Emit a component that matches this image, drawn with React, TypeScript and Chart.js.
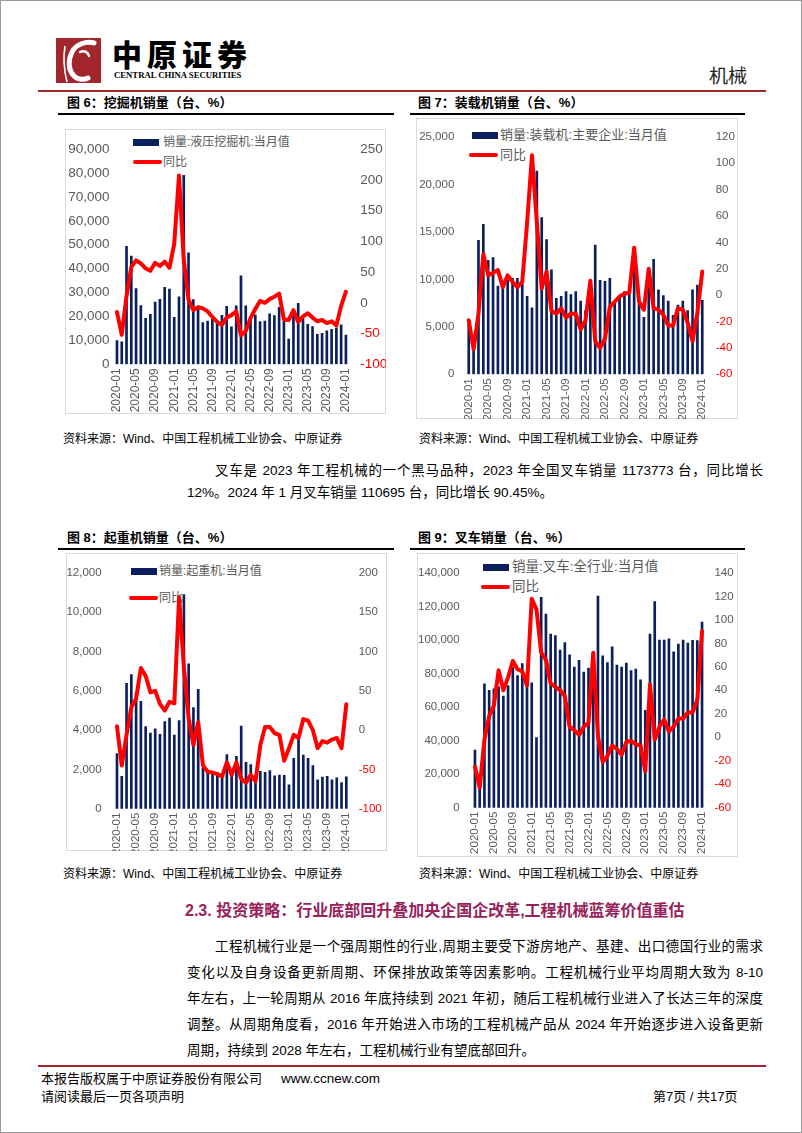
import React, { useEffect, useRef } from "react";
import { Chart, registerables } from "chart.js";
Chart.register(...registerables);

const monthLabels = [
  "2020-01","2020-02","2020-03","2020-04","2020-05","2020-06","2020-07","2020-08","2020-09","2020-10","2020-11","2020-12",
  "2021-01","2021-02","2021-03","2021-04","2021-05","2021-06","2021-07","2021-08","2021-09","2021-10","2021-11","2021-12",
  "2022-01","2022-02","2022-03","2022-04","2022-05","2022-06","2022-07","2022-08","2022-09","2022-10","2022-11","2022-12",
  "2023-01","2023-02","2023-03","2023-04","2023-05","2023-06","2023-07","2023-08","2023-09","2023-10","2023-11","2023-12",
  "2024-01"
];

const excavatorSales = [9900, 9400, 49300, 45300, 31700, 24600, 19200, 20900, 26000, 27200, 32200, 31500, 19600, 28200, 79000, 46600, 27100, 23000, 17400, 18100, 18900, 17300, 20500, 24200, 15700, 24500, 37000, 24500, 19500, 20700, 17900, 18100, 21100, 20400, 23800, 18000, 10500, 21600, 25500, 19100, 16700, 15800, 12500, 12900, 14000, 14600, 15100, 16500, 12200];
const excavatorYoY = [-15, -52, 11, 58, 69, 64, 56, 52, 65, 60, 67, 57, 96, 207, 70, 5, -12, -7, -9, -14, -23, -31, -36, -24, -20, -14, -53, -46, -25, -10, 3, 0, 6, 10, 15, -27, -28, -12, -31, -22, -17, -24, -30, -28, -33, -30, -37, -5, 18];

const loaderSales = [5300, 3400, 14100, 15800, 12000, 12300, 9300, 9700, 9900, 10100, 10100, 9500, 8200, 7000, 21400, 16500, 14200, 11000, 8000, 8200, 8700, 8400, 8700, 7700, 6700, 7700, 13600, 9900, 9800, 10100, 7600, 8100, 8700, 8700, 11500, 7400, 6000, 9200, 12100, 8900, 8300, 7700, 6200, 7300, 7700, 6700, 8900, 9400, 7800];
const loaderYoY = [-19, -41, -14, 31, 15, 17, 19, 6, 15, 10, 6, 10, 55, 106, 55, 5, 18, -12, -14, -10, -17, -14, -14, -26, -19, 11, -35, -40, -33, -9, -5, -1, 1, 2, 36, -5, -11, 20, -10, -11, -15, -23, -23, -10, -11, -21, -35, -13, 18];

const craneSales = [2800, 1650, 6380, 6830, 5900, 5470, 4180, 3850, 4060, 3780, 4430, 4610, 3750, 4480, 10900, 7370, 5140, 6070, 2050, 1950, 1900, 1850, 1800, 2750, 1650, 2660, 4200, 2360, 2240, 1700, 1900, 1850, 1940, 1670, 1710, 1700, 1210, 2560, 3560, 2730, 2560, 2190, 1470, 1610, 1650, 1470, 1570, 1330, 1620];
const craneYoY = [5, -45, -6, 29, 40, 79, 69, 48, 50, 33, 25, 36, 34, 169, 80, 15, -19, 10, -45, -53, -54, -56, -59, -41, -57, -41, -62, -67, -57, -65, -19, 4, 4, -4, -6, -39, -23, -6, -10, 14, 12, 0, -23, -14, -16, -12, -10, -23, 33];

const forkliftSales = [34400, 20000, 73900, 70000, 70900, 72000, 66500, 72800, 83700, 78800, 86000, 74200, 74500, 41800, 125500, 115400, 103500, 102700, 94000, 98400, 91200, 83800, 87900, 80900, 83300, 72000, 126200, 90600, 86600, 95900, 85000, 83800, 86200, 81700, 82600, 76200, 58100, 103500, 122900, 100000, 100000, 100700, 93000, 97600, 100000, 98200, 99800, 99600, 110695];
const forkliftYoY = [-25, -43, -2, 18, 27, 57, 40, 51, 65, 58, 56, 44, 118, 109, 72, 66, 46, 43, 40, 35, 9, 6, 2, 9, 12, 72, 1, -21, -16, -7, -10, -15, -4, -3, -6, -7, -29, 45, -2, 9, 15, 5, 9, 16, 16, 21, 21, 32, 90.45];

const BAR_COLOR = "#0B1F5C";
const LINE_COLOR = "#FF0000";
const TICK_GRAY = "#595959";
const CJK = '"Liberation Sans", "Noto Sans CJK SC", sans-serif';

type Cfg = {
  box: { x: number; y: number; w: number; h: number };
  plot: { l: number; r: number; t: number; b: number };
  sales: number[];
  yoy: number[];
  yMax: number; yStep: number;
  y1Min: number; y1Max: number; y1Step: number;
  leftPad: number; rightPad: number;
  yFont: number; xFont: number;
  barName: string;
  legend: { bx: number; by: number; lx: number; ly: number; tx: number; size: number };
};

const charts: Cfg[] = [
  {
    box: { x: 64, y: 128, w: 321, h: 285 },
    plot: { l: 113.6, r: 347.3, t: 142.7, b: 363.3 },
    sales: excavatorSales, yoy: excavatorYoY,
    yMax: 90000, yStep: 10000, y1Min: -100, y1Max: 250, y1Step: 50,
    leftPad: 5, rightPad: 12, yFont: 13.5, xFont: 12,
    barName: "销量:液压挖掘机:当月值",
    legend: { bx: 132, by: 141.5, lx: 132, ly: 161, tx: 162, size: 12 },
  },
  {
    box: { x: 415, y: 117, w: 322, h: 301 },
    plot: { l: 465.3, r: 703.7, t: 132.7, b: 373.3 },
    sales: loaderSales, yoy: loaderYoY,
    yMax: 25000, yStep: 5000, y1Min: -60, y1Max: 120, y1Step: 20,
    leftPad: 12, rightPad: 11, yFont: 11.5, xFont: 11.5,
    barName: "销量:装载机:主要企业:当月值",
    legend: { bx: 471, by: 134, lx: 468, ly: 154, tx: 499, size: 13 },
  },
  {
    box: { x: 65, y: 552, w: 321, h: 298 },
    plot: { l: 113.6, r: 347.7, t: 565.7, b: 807.7 },
    sales: craneSales, yoy: craneYoY,
    yMax: 12000, yStep: 2000, y1Min: -100, y1Max: 200, y1Step: 50,
    leftPad: 13, rightPad: 10, yFont: 11.5, xFont: 11.5,
    barName: "销量:起重机:当月值",
    legend: { bx: 130, by: 570.5, lx: 128, ly: 597, tx: 158, size: 12 },
  },
  {
    box: { x: 416, y: 552, w: 321, h: 304 },
    plot: { l: 471.6, r: 703.4, t: 566.7, b: 806.7 },
    sales: forkliftSales, yoy: forkliftYoY,
    yMax: 140000, yStep: 20000, y1Min: -60, y1Max: 140, y1Step: 20,
    leftPad: 13, rightPad: 10, yFont: 11.5, xFont: 11.5,
    barName: "销量:叉车:全行业:当月值",
    legend: { bx: 482, by: 566, lx: 480, ly: 586, tx: 511, size: 13.5 },
  },
];

function ChartPanel({ cfg }: { cfg: Cfg }) {
  const ref = useRef<HTMLCanvasElement>(null);
  useEffect(() => {
    const { box, plot } = cfg;
    const font = (s: number) => ({ family: '"Liberation Sans", Arial, sans-serif', size: s });
    const chart = new Chart(ref.current as HTMLCanvasElement, {
      type: "bar",
      data: {
        labels: monthLabels,
        datasets: [
          {
            type: "line", data: cfg.yoy, yAxisID: "y1", borderColor: LINE_COLOR, backgroundColor: LINE_COLOR,
            borderWidth: 4, pointRadius: 0, tension: 0, order: 0, borderJoinStyle: "round", borderCapStyle: "round",
          } as any,
          { type: "bar", data: cfg.sales, yAxisID: "y", backgroundColor: BAR_COLOR, barThickness: 2, order: 1 } as any,
        ],
      },
      options: {
        animation: false, responsive: false, maintainAspectRatio: false,
        layout: { padding: { top: plot.t - box.y, left: 0, right: 0, bottom: 0 } },
        plugins: { legend: { display: false }, tooltip: { enabled: false } },
        scales: {
          x: {
            type: "category", offset: true,
            grid: { display: false, drawTicks: false }, border: { display: false },
            ticks: {
              autoSkip: false, maxRotation: 90, minRotation: 90, padding: 4, color: TICK_GRAY, font: font(cfg.xFont),
              callback: (_v: any, i: number) => (i % 4 === 0 ? monthLabels[i] : ""),
            },
            afterFit: (s: any) => { s.height = box.h - (plot.b - box.y); },
          },
          y: {
            position: "left", min: 0, max: cfg.yMax,
            grid: { display: false, drawTicks: false }, border: { display: false },
            ticks: { stepSize: cfg.yStep, padding: cfg.leftPad, color: TICK_GRAY, font: font(cfg.yFont) },
            afterFit: (s: any) => { s.width = plot.l - box.x; },
          },
          y1: {
            position: "right", min: cfg.y1Min, max: cfg.y1Max,
            grid: { display: false, drawTicks: false }, border: { display: false },
            ticks: {
              stepSize: cfg.y1Step, padding: cfg.rightPad, font: font(cfg.yFont),
              color: (ctx: any) => (ctx.tick && ctx.tick.value < 0 ? "#FF0000" : TICK_GRAY),
            },
            afterFit: (s: any) => { s.width = box.x + box.w - plot.r; },
          },
        },
      } as any,
    });
    return () => chart.destroy();
  }, [cfg]);
  const { box, legend } = cfg;
  const s = legend.size;
  return (
    <>
      <div style={{ position: "absolute", left: box.x, top: box.y, width: box.w, height: box.h, border: "1px solid #D9D9D9", boxSizing: "border-box", background: "#fff" }} />
      <div style={{ position: "absolute", left: legend.bx, top: legend.by - 3.5, width: 26, height: 7, background: BAR_COLOR }} />
      <div style={{ position: "absolute", left: legend.tx, top: legend.by - s * 0.7, fontSize: s, lineHeight: `${s * 1.4}px`, color: TICK_GRAY, fontFamily: CJK, whiteSpace: "nowrap" }}>{cfg.barName}</div>
      <div style={{ position: "absolute", left: legend.lx, top: legend.ly - 2, width: 29, height: 4, background: LINE_COLOR, borderRadius: 2 }} />
      <div style={{ position: "absolute", left: legend.tx, top: legend.ly - s * 0.7, fontSize: s, lineHeight: `${s * 1.4}px`, color: TICK_GRAY, fontFamily: CJK, whiteSpace: "nowrap" }}>同比</div>
      <canvas ref={ref} width={box.w} height={box.h} style={{ position: "absolute", left: box.x, top: box.y, width: box.w, height: box.h }} />
    </>
  );
}

function T(props: { x: number; y: number; size: number; text: string; color?: string; weight?: number; w?: number; justify?: boolean; family?: string; ls?: number }) {
  const { x, y, size, text, color = "#000", weight = 400, w, justify, family = CJK, ls } = props;
  return (
    <div style={{
      position: "absolute", left: x, top: y - size * 0.7, fontSize: size, lineHeight: `${size * 1.4}px`, color, fontWeight: weight,
      fontFamily: family, width: w, whiteSpace: justify ? "normal" : "nowrap",
      textAlign: justify ? "justify" : undefined, textAlignLast: justify ? "justify" : undefined, letterSpacing: ls,
    } as any}>{text}</div>
  );
}

const P = 13.5;
const RIGHT = 762;

export default function App() {
  return (
    <div style={{ position: "absolute", left: 0, top: 0, width: 802, height: 1133, overflow: "hidden", background: "#fff", border: "1px solid #9a9a9a", boxSizing: "border-box" }}>
      {/* header */}
      <svg style={{ position: "absolute", left: 55, top: 37 }} width={45} height={45} viewBox="0 0 45 45">
        <rect width="45" height="45" fill="#A3262C" />
        <path d="M38 5 C 30 3, 20 6, 16 14 C 12 22, 12 32, 18 38 C 22 42, 28 42, 32 40" stroke="#fff" strokeWidth="5" fill="none" strokeLinecap="round" />
        <path d="M9 8 C 7 20, 8 32, 11 44" stroke="#fff" strokeWidth="1.6" fill="none" />
        <path d="M24 14 C 28 12, 32 14, 33 18" stroke="#fff" strokeWidth="2.5" fill="none" strokeLinecap="round" />
      </svg>
      <T x={111} y={55} size={30} text="中原证券" weight={900} ls={5} />
      <T x={113} y={74} size={8.7} text="CENTRAL CHINA SECURITIES" weight={700} family='"Liberation Serif", serif' />
      <T x={708} y={76} size={19} text="机械" color="#222" />
      <div style={{ position: "absolute", left: 37, top: 89, width: 728, height: 2, background: "#A0262E" }} />

      {/* titles row 1 */}
      <T x={66} y={102.5} size={13} text="图 6：挖掘机销量（台、%）" weight={700} />
      <div style={{ position: "absolute", left: 57, top: 111.5, width: 336, height: 2.5, background: "#000" }} />
      <T x={417} y={102.5} size={13} text="图 7：装载机销量（台、%）" weight={700} />
      <div style={{ position: "absolute", left: 409, top: 111.5, width: 335, height: 2.5, background: "#000" }} />

      {charts.map((c, i) => <ChartPanel key={i} cfg={c} />)}

      <T x={62} y={438} size={12} text="资料来源：Wind、中国工程机械工业协会、中原证券" />
      <T x={418} y={438} size={12} text="资料来源：Wind、中国工程机械工业协会、中原证券" />

      <T x={214} y={470} size={P} w={RIGHT - 214} justify text="叉车是 2023 年工程机械的一个黑马品种，2023 年全国叉车销量 1173773 台，同比增长" />
      <T x={186} y={492} size={P} text="12%。2024 年 1 月叉车销量 110695 台，同比增长 90.45%。" />

      <T x={66} y={537} size={13} text="图 8：起重机销量（台、%）" weight={700} />
      <div style={{ position: "absolute", left: 57, top: 546.5, width: 336, height: 2.5, background: "#000" }} />
      <T x={417} y={537} size={13} text="图 9：叉车销量（台、%）" weight={700} />
      <div style={{ position: "absolute", left: 409, top: 546.5, width: 335, height: 2.5, background: "#000" }} />

      <T x={62} y={873} size={12} text="资料来源：Wind、中国工程机械工业协会、中原证券" />
      <T x={418} y={873} size={12} text="资料来源：Wind、中国工程机械工业协会、中原证券" />

      <T x={184} y={910} size={16} weight={700} color="#99215A" text="2.3. 投资策略：行业底部回升叠加央企国企改革,工程机械蓝筹价值重估" />

      <T x={214} y={946} size={P} w={RIGHT - 214} justify text="工程机械行业是一个强周期性的行业,周期主要受下游房地产、基建、出口德国行业的需求" />
      <T x={186} y={972} size={P} w={RIGHT - 186} justify text="变化以及自身设备更新周期、环保排放政策等因素影响。工程机械行业平均周期大致为 8-10" />
      <T x={186} y={998} size={P} w={RIGHT - 186} justify text="年左右，上一轮周期从 2016 年底持续到 2021 年初，随后工程机械行业进入了长达三年的深度" />
      <T x={186} y={1024} size={P} w={RIGHT - 186} justify text="调整。从周期角度看，2016 年开始进入市场的工程机械产品从 2024 年开始逐步进入设备更新" />
      <T x={186} y={1050} size={P} text="周期，持续到 2028 年左右，工程机械行业有望底部回升。" />

      <div style={{ position: "absolute", left: 37, top: 1064, width: 728, height: 2, background: "#A0262E" }} />
      <T x={40} y={1078} size={13} text="本报告版权属于中原证券股份有限公司" />
      <T x={280} y={1078} size={13.5} text="www.ccnew.com" family='"Liberation Sans", Arial, sans-serif' />
      <T x={40} y={1096} size={13} text="请阅读最后一页各项声明" />
      <T x={652} y={1096} size={13} text="第7页 / 共17页" />
    </div>
  );
}
